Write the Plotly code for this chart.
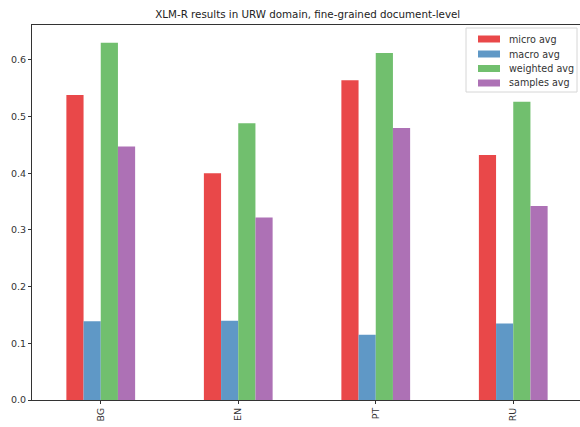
import plotly.graph_objects as go

# Fine-grained document-level scores per language
languages = ["BG", "EN", "PT", "RU"]
micro_avg = [0.538, 0.400, 0.564, 0.432]
macro_avg = [0.139, 0.140, 0.115, 0.135]
weighted_avg = [0.630, 0.488, 0.612, 0.526]
samples_avg = [0.447, 0.322, 0.480, 0.342]

series = [
    ("micro avg", micro_avg, "rgb(233,72,73)"),
    ("macro avg", macro_avg, "rgb(95,152,198)"),
    ("weighted avg", weighted_avg, "rgb(113,191,110)"),
    ("samples avg", samples_avg, "rgb(173,113,181)"),
]

FONT = "DejaVu Sans"
W, H = 580, 427
L, R, T, B = 32, 0, 25, 27
PW, PH = W - L - R, H - T - B


def px_x(px):
    return (px - L) / PW


def px_y(py):
    return (H - B - py) / PH


fig = go.Figure()
for name, vals, color in series:
    fig.add_trace(go.Bar(
        x=list(range(len(languages))), y=vals, name=name,
        marker=dict(color=color, line=dict(width=0)),
        showlegend=False,
    ))

# Legend box drawn in the upper right of the axes
shapes = [dict(type="rect", xref="paper", yref="paper",
               x0=px_x(466), x1=px_x(577), y0=px_y(92), y1=px_y(28),
               line=dict(color="#d6d6d6", width=1), fillcolor="rgba(255,255,255,0.85)",
               layer="above")]
annotations = []
row_y = [39, 54, 68.5, 83]
for (name, _, color), cy in zip(series, row_y):
    shapes.append(dict(type="rect", xref="paper", yref="paper",
                       x0=px_x(478), x1=px_x(500), y0=px_y(cy + 3.5), y1=px_y(cy - 3.5),
                       line=dict(width=0), fillcolor=color, layer="above"))
    annotations.append(dict(xref="paper", yref="paper", x=px_x(507), y=px_y(cy),
                            xanchor="left", yanchor="middle", showarrow=False,
                            text=name, font=dict(family=FONT, size=9.6, color="#333")))

fig.update_layout(
    width=W, height=H,
    margin=dict(l=L, r=R, t=T, b=B),
    paper_bgcolor="white", plot_bgcolor="white",
    barmode="group", bargap=0.5, bargroupgap=0,
    font=dict(family=FONT, size=9.5, color="#333"),
    title=dict(text="XLM-R results in URW domain, fine-grained document-level",
               x=(L + W) / 2 / W + 0.003, xanchor="center",
               y=1 - 14 / H, yanchor="middle",
               font=dict(family=FONT, size=10.3, color="#222")),
    shapes=shapes, annotations=annotations,
)

fig.update_xaxes(
    range=[-0.5, 3.5 - 2 / 137.5],
    tickmode="array", tickvals=list(range(len(languages))), ticktext=languages,
    tickangle=-90, ticks="outside", ticklen=3, tickcolor="#333",
    showline=True, linecolor="#333", linewidth=1, mirror=True,
    showgrid=False, zeroline=False, automargin=False,
)
fig.update_yaxes(
    range=[0, 0.6615],
    tickmode="array", tickvals=[0, 0.1, 0.2, 0.3, 0.4, 0.5, 0.6],
    tickformat=".1f",
    ticks="outside", ticklen=3, tickcolor="#333",
    showline=True, linecolor="#333", linewidth=1, mirror=False,
    showgrid=False, zeroline=False, automargin=False,
)

fig.write_html("out.html")
